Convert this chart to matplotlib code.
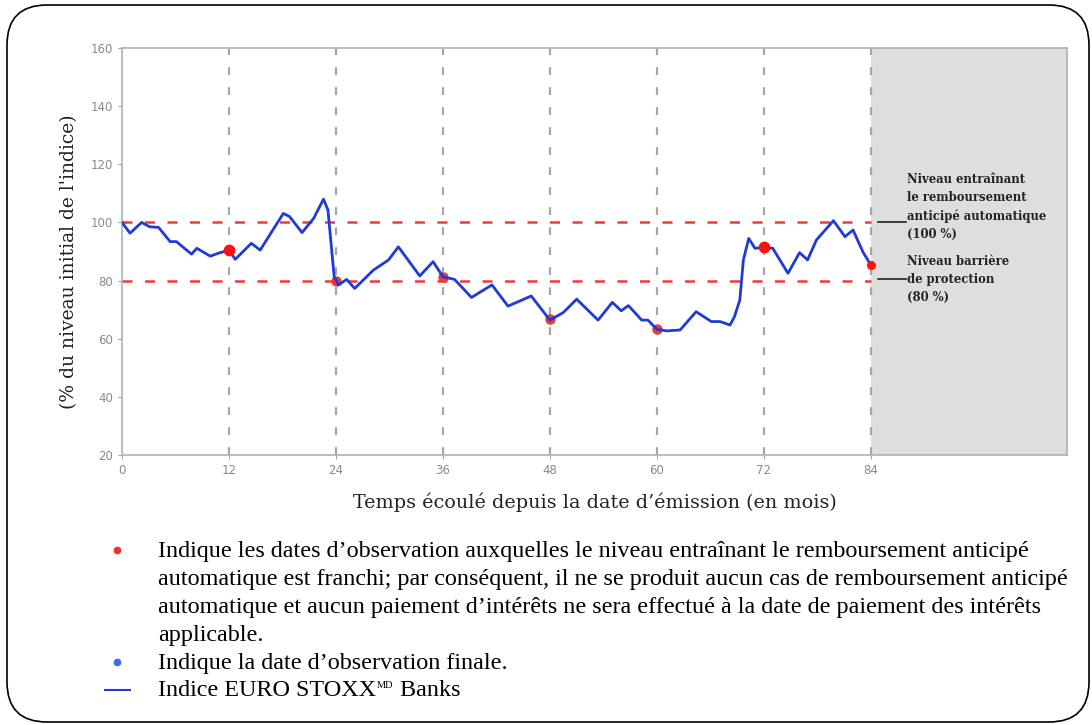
import matplotlib
matplotlib.use("Agg")
import matplotlib.pyplot as plt
from matplotlib.patches import FancyBboxPatch, Rectangle

# ---------------- data ----------------
months = [0, 0.9, 2.2, 3.1, 4.1, 5.4, 6.1, 7.8, 8.4, 9.9, 10.8, 12.0, 12.7, 14.5, 15.5,
          18.1, 18.8, 20.2, 21.5, 22.6, 23.1, 23.8, 24.3, 25.2, 26.1, 28.2, 29.9, 31.0,
          33.4, 34.9, 36.0, 37.3, 39.2, 41.5, 43.3, 45.9, 48.0, 49.5, 51.0, 53.4, 55.0,
          56.0, 56.8, 58.3, 59.0, 60.0, 61.1, 62.6, 64.4, 66.1, 67.1, 68.2, 68.7, 69.3,
          69.7, 70.3, 71.0, 72.0, 73.0, 74.7, 76.0, 76.9, 77.9, 79.8, 81.1, 82.0, 83.1, 84.0]
index_values = [100, 96.3, 100, 98.5, 98.3, 93.4, 93.4, 89.1, 91.1, 88.4, 89.4, 90.5, 87.3, 92.8, 90.5,
                103.1, 102, 96.5, 101.4, 108, 104.3, 81.3, 78.5, 80.4, 77.3, 83.6, 87.1, 91.6,
                81.6, 86.5, 81.3, 80.4, 74.2, 78.5, 71.2, 74.7, 66.4, 69, 73.6, 66.4, 72.5,
                69.6, 71.4, 66.4, 66.4, 63.2, 62.7, 63, 69.3, 65.9, 65.9, 64.7, 67.6, 73.3,
                87.1, 94.5, 91.1, 91.4, 91.1, 82.5, 89.6, 87.1, 94, 100.6, 95.1, 97.4, 89.9, 85.3]

obs_months = [12, 24, 36, 48, 60, 72, 84]
obs_values = [90.5, 80, 81.3, 66.7, 63.2, 91.4, 85.3]
obs_on_top = [True, False, False, False, False, True, True]

autocall_level = 100
barrier_level = 80
x_ticks = [0, 12, 24, 36, 48, 60, 72, 84]
y_ticks = [20, 40, 60, 80, 100, 120, 140, 160]

ylabel = "(% du niveau initial de l'indice)"
xlabel = "Temps écoulé depuis la date d’émission (en mois)"
note_autocall = "Niveau entraînant\nle remboursement\nanticipé automatique\n(100 %)"
note_barrier = "Niveau barrière\nde protection\n(80 %)"
legend_lines = [
    "Indique les dates d’observation auxquelles le niveau entraînant le remboursement anticipé",
    "automatique est franchi; par conséquent, il ne se produit aucun cas de remboursement anticipé",
    "automatique et aucun paiement d’intérêts ne sera effectué à la date de paiement des intérêts",
    "applicable.",
    "Indique la date d’observation finale.",
]
legend_last = "Indice EURO STOXX"
legend_sup = "MD"
legend_last2 = " Banks"

W, H = 1092, 725
fig = plt.figure(figsize=(W / 100, H / 100), dpi=100)
fig.patch.set_facecolor("white")

ov = fig.add_axes([0, 0, 1, 1], zorder=0)
ov.set_xlim(0, W)
ov.set_ylim(H, 0)
ov.axis("off")
ov.add_patch(FancyBboxPatch((7, 5), 1082, 717, boxstyle="round,pad=0,rounding_size=40",
                            fill=False, edgecolor="black", lw=1.2))

# ---------------- main axes ----------------
L, R, T, B = 122, 1067, 48, 455
ax = fig.add_axes([L / W, 1 - B / H, (R - L) / W, (B - T) / H], zorder=2)
ax.set_xlim(0, 106)
ax.set_ylim(20, 160)
ax.set_facecolor("white")

ax.add_patch(Rectangle((84, 20), 22, 140, facecolor="#dedede", edgecolor="none", zorder=0))

for xv in x_ticks[1:]:
    ax.axvline(xv, color="#a6a6a6", lw=1.6, dashes=(3.5, 5.5), zorder=1)
for yv in (autocall_level, barrier_level):
    ax.plot([0, 84], [yv, yv], color="#f03a3a", lw=1.8, dashes=(4, 5), zorder=1)

for m, v, top_ in zip(obs_months, obs_values, obs_on_top):
    ms = 8.5 if m in (12, 72) else (6.5 if m == 84 else 7.5)
    ax.plot([m], [v], "o", color="#ff1010" if top_ else "#ee3c2a", ms=ms, mec="none",
            zorder=4 if top_ else 2)

ax.plot(months, index_values, color="#1f3ad8", lw=2.0, zorder=3, solid_joinstyle="round")

for s in ax.spines.values():
    s.set_color("#b0b0b0")
    s.set_linewidth(1.2)
ax.set_xticks(x_ticks)
ax.set_yticks(y_ticks)
ax.tick_params(colors="#a0a0a0", labelcolor="#8a8a8a", labelsize=8.5, length=3, width=0.8)
for lab in ax.get_xticklabels() + ax.get_yticklabels():
    lab.set_family("DejaVu Sans")

ax.set_xlabel(xlabel, family="DejaVu Serif", fontsize=13.8, color="#222222", labelpad=11)
ax.set_ylabel(ylabel, family="DejaVu Serif", fontsize=13.5, color="#222222")
ax.yaxis.set_label_coords(-0.047, 0.474)

top = fig.add_axes([0, 0, 1, 1], zorder=5)
top.set_xlim(0, W)
top.set_ylim(H, 0)
top.axis("off")
top.plot([878, 906], [221.5, 221.5], color="#222222", lw=1.2)
top.plot([878, 906], [279, 279], color="#222222", lw=1.2)
top.text(907, 173, note_autocall, family="DejaVu Serif", fontweight="bold", fontsize=8.4,
         va="top", ha="left", linespacing=1.5, color="#222222")
top.text(907, 255, note_barrier, family="DejaVu Serif", fontweight="bold", fontsize=8.4,
         va="top", ha="left", linespacing=1.5, color="#222222")

ys = [552, 580, 608, 635, 663, 690]
fs = 17.4
for y, t in zip(ys[:5], legend_lines):
    top.text(158, y, t, family="Liberation Serif", fontsize=fs, va="center", ha="left", color="black")
top.plot([117], [550], "o", color="#f03030", ms=5.5, mec="none")
top.plot([117], [662], "o", color="#3a6af0", ms=5.5, mec="none")
top.plot([105, 130], [690, 690], color="#1f3ad8", lw=1.5)
t1 = top.text(158, ys[5], legend_last, family="Liberation Serif", fontsize=fs, va="center", ha="left")
fig.canvas.draw()
r = fig.canvas.get_renderer()
bb = t1.get_window_extent(r)
t2 = top.text(bb.x1 + 1, ys[5] - 5, legend_sup, family="Liberation Serif", fontsize=7.5,
              va="center", ha="left")
fig.canvas.draw()
bb2 = t2.get_window_extent(r)
top.text(bb2.x1, ys[5], legend_last2, family="Liberation Serif", fontsize=fs, va="center", ha="left")

fig.savefig("out.png", dpi=100, facecolor="white")
